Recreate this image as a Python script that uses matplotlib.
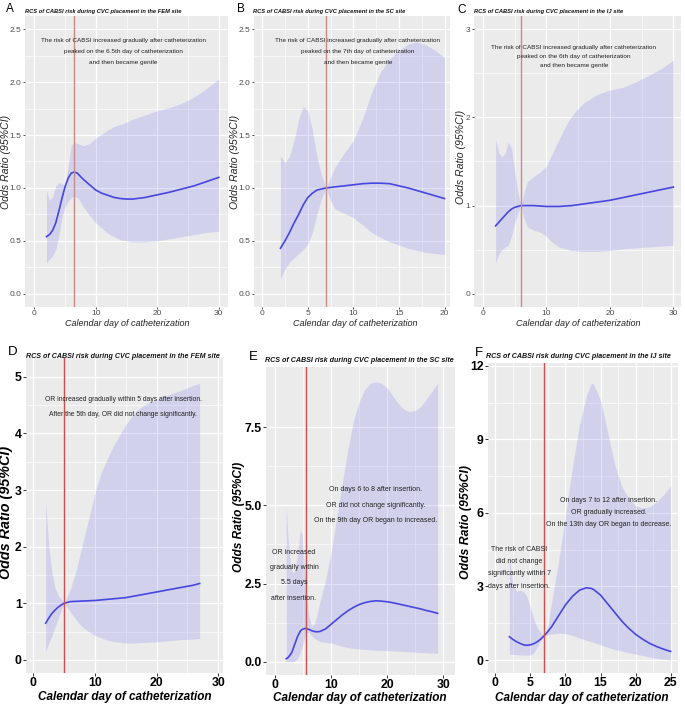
import matplotlib
matplotlib.use("Agg")
import matplotlib.pyplot as plt

plt.rcParams['font.family'] = ['Liberation Sans', 'DejaVu Sans']

W, H = 685, 709

# ---------------- data ----------------
# Panel A (FEM, top)
a_x = [2, 2.5, 3, 3.5, 4, 4.5, 5, 5.5, 6, 6.5, 7, 7.5, 8, 9, 10, 11, 12, 13, 14, 15, 16, 18, 20, 22, 24, 26, 28, 30]
a_or = [0.54, 0.56, 0.60, 0.67, 0.78, 0.90, 1.01, 1.09, 1.14, 1.15, 1.14, 1.11, 1.08, 1.03, 0.98, 0.95, 0.93, 0.91, 0.90, 0.895, 0.895, 0.91, 0.935, 0.96, 0.99, 1.02, 1.06, 1.10]
a_hi = [0.98, 0.88, 0.92, 1.02, 1.05, 1.04, 1.02, 1.20, 1.40, 1.43, 1.42, 1.41, 1.40, 1.42, 1.47, 1.51, 1.55, 1.58, 1.60, 1.62, 1.65, 1.69, 1.73, 1.76, 1.80, 1.86, 1.94, 2.03]
a_lo = [0.29, 0.33, 0.36, 0.42, 0.55, 0.72, 0.82, 0.87, 0.91, 0.92, 0.91, 0.87, 0.82, 0.74, 0.67, 0.62, 0.57, 0.54, 0.51, 0.50, 0.49, 0.49, 0.50, 0.52, 0.54, 0.56, 0.58, 0.59]

# Panel B (SC, top)
b_x = [2, 2.5, 3, 3.5, 4, 4.5, 5, 5.5, 6, 6.5, 7, 7.5, 8, 9, 10, 11, 12, 13, 14, 15, 16, 17, 18, 19, 20]
b_or = [0.43, 0.50, 0.58, 0.67, 0.75, 0.84, 0.91, 0.95, 0.98, 0.99, 1.00, 1.005, 1.01, 1.02, 1.03, 1.04, 1.045, 1.045, 1.04, 1.02, 1.00, 0.975, 0.95, 0.925, 0.90]
b_hi = [1.30, 1.24, 1.30, 1.45, 1.65, 1.77, 1.73, 1.55, 1.30, 1.12, 1.00, 1.10, 1.20, 1.33, 1.45, 1.65, 1.90, 2.10, 2.22, 2.30, 2.36, 2.38, 2.35, 2.30, 2.23]
b_lo = [0.15, 0.23, 0.30, 0.34, 0.38, 0.42, 0.47, 0.58, 0.75, 0.90, 1.00, 0.88, 0.80, 0.76, 0.72, 0.65, 0.58, 0.53, 0.49, 0.46, 0.43, 0.41, 0.39, 0.38, 0.37]

# Panel C (IJ, top)
c_x = [2, 2.5, 3, 3.5, 4, 4.5, 5, 5.5, 6, 6.5, 7, 8, 9, 10, 11, 12, 13, 14, 15, 16, 18, 20, 22, 24, 26, 28, 30]
c_or = [0.77, 0.81, 0.85, 0.89, 0.93, 0.96, 0.98, 0.99, 1.00, 1.00, 1.00, 1.00, 0.995, 0.99, 0.99, 0.99, 0.995, 1.00, 1.01, 1.02, 1.04, 1.06, 1.09, 1.12, 1.15, 1.18, 1.21]
c_hi = [1.75, 1.60, 1.55, 1.60, 1.72, 1.65, 1.40, 1.15, 1.00, 1.15, 1.27, 1.33, 1.38, 1.45, 1.60, 1.75, 1.90, 2.02, 2.10, 2.17, 2.26, 2.31, 2.34, 2.40, 2.47, 2.55, 2.65]
c_lo = [0.35, 0.45, 0.50, 0.53, 0.55, 0.65, 0.80, 0.92, 1.00, 0.85, 0.76, 0.72, 0.70, 0.65, 0.58, 0.53, 0.51, 0.49, 0.485, 0.48, 0.48, 0.49, 0.51, 0.52, 0.53, 0.54, 0.55]

# Panel D (FEM, bottom)
d_x = [2, 2.5, 3, 3.5, 4, 4.5, 5, 6, 7, 8, 9, 10, 11, 12, 13, 14, 15, 16, 17, 18, 20, 22, 24, 26, 27]
d_or = [0.65, 0.74, 0.82, 0.88, 0.93, 0.97, 1.00, 1.03, 1.035, 1.04, 1.045, 1.05, 1.06, 1.07, 1.08, 1.09, 1.10, 1.12, 1.14, 1.16, 1.20, 1.24, 1.28, 1.32, 1.35]
d_hi = [2.80, 2.00, 1.55, 1.28, 1.15, 1.08, 1.00, 1.25, 1.60, 2.05, 2.50, 2.95, 3.30, 3.55, 3.78, 3.97, 4.15, 4.30, 4.42, 4.50, 4.60, 4.68, 4.76, 4.85, 4.88]
d_lo = [0.15, 0.30, 0.42, 0.58, 0.72, 0.88, 1.00, 0.85, 0.70, 0.58, 0.50, 0.43, 0.39, 0.35, 0.33, 0.31, 0.30, 0.30, 0.305, 0.31, 0.32, 0.34, 0.36, 0.37, 0.38]

# Panel E (SC, bottom)
e_x = [2, 2.3, 2.7, 3, 3.5, 4, 4.5, 4.8, 5, 5.5, 6, 6.5, 7, 7.5, 8, 9, 10, 11, 12, 13, 14, 15, 16, 17, 18, 19, 20, 21, 22, 23, 24, 25, 26, 27, 28, 29]
e_or = [0.10, 0.13, 0.22, 0.30, 0.55, 0.80, 0.98, 1.03, 1.05, 1.07, 1.04, 1.00, 0.97, 0.96, 0.97, 1.05, 1.20, 1.35, 1.50, 1.63, 1.74, 1.83, 1.89, 1.93, 1.95, 1.94, 1.92, 1.89, 1.85, 1.81, 1.77, 1.73, 1.69, 1.64, 1.60, 1.55]
e_hi = [5.00, 4.00, 3.20, 2.90, 2.85, 3.40, 4.20, 4.10, 3.60, 2.50, 1.50, 1.15, 1.20, 1.50, 1.90, 2.60, 3.50, 4.60, 5.70, 6.80, 7.70, 8.30, 8.70, 8.90, 8.95, 8.90, 8.75, 8.50, 8.25, 8.07, 8.00, 8.03, 8.15, 8.40, 8.65, 8.90]
e_lo = [0.00, 0.00, 0.00, 0.00, 0.02, 0.10, 0.30, 0.45, 0.60, 0.90, 0.95, 0.85, 0.75, 0.70, 0.65, 0.62, 0.60, 0.55, 0.50, 0.46, 0.43, 0.41, 0.40, 0.38, 0.37, 0.365, 0.36, 0.35, 0.34, 0.33, 0.32, 0.31, 0.30, 0.29, 0.28, 0.27]

# Panel F (IJ, bottom)
f_x = [2, 2.5, 3, 3.5, 4, 4.5, 5, 5.5, 6, 6.5, 7, 7.5, 8, 9, 10, 11, 12, 13, 13.7, 14, 15, 16, 17, 18, 19, 20, 21, 22, 23, 24, 25]
f_or = [0.95, 0.84, 0.75, 0.68, 0.62, 0.60, 0.62, 0.67, 0.75, 0.86, 1.00, 1.17, 1.35, 1.80, 2.25, 2.60, 2.85, 2.95, 2.92, 2.88, 2.65, 2.30, 1.95, 1.60, 1.30, 1.05, 0.85, 0.68, 0.55, 0.44, 0.35]
f_hi = [4.20, 3.10, 2.80, 2.85, 2.80, 2.60, 2.10, 1.65, 1.30, 1.10, 1.00, 1.40, 2.30, 4.00, 5.90, 7.90, 9.60, 10.80, 11.30, 11.25, 10.60, 9.30, 8.00, 7.10, 6.60, 6.30, 6.20, 6.25, 6.45, 6.75, 7.10]
f_lo = [0.25, 0.23, 0.22, 0.21, 0.20, 0.20, 0.20, 0.30, 0.55, 0.80, 1.00, 1.03, 1.05, 1.10, 1.08, 1.00, 0.90, 0.80, 0.75, 0.72, 0.62, 0.52, 0.44, 0.37, 0.30, 0.24, 0.18, 0.12, 0.07, 0.03, 0.00]

cut_days = [6.5, 7, 6, 5, 5.5, 7]
titles = ["RCS of CABSI risk during CVC placement in the FEM site",
          "RCS of CABSI risk during CVC placement in the SC site",
          "RCS of CABSI risk during CVC placement in the IJ site",
          "RCS of CABSI risk during CVC placement in the FEM site",
          "RCS of CABSI risk during CVC placement in the SC site",
          "RCS of CABSI risk during CVC placement in the IJ site"]
letters = ["A", "B", "C", "D", "E", "F"]
xticks = [[0, 10, 20, 30], [0, 5, 10, 15, 20], [0, 10, 20, 30],
          [0, 10, 20, 30], [0, 10, 20, 30], [0, 5, 10, 15, 20, 25]]
yticks = [[0, 0.5, 1.0, 1.5, 2.0, 2.5], [0, 0.5, 1.0, 1.5, 2.0, 2.5], [0, 1, 2, 3],
          [0, 1, 2, 3, 4, 5], [0, 2.5, 5.0, 7.5], [0, 3, 6, 9, 12]]
ylabels_fmt = ["{:.1f}", "{:.1f}", "{:.0f}", "{:.0f}", "{:.1f}", "{:.0f}"]

# annotation lines: (text, x, y)
notes = [
    [("The risk of CABSI increased gradually after catheterization", 14.5, 2.39),
     ("peaked on the 6.5th day of catheterization", 14.5, 2.285),
     ("and then became gentle", 14.5, 2.19)],
    [("The risk of CABSI increased gradually after catheterization", 10.5, 2.395),
     ("peaked on the 7th day of catheterization", 10.5, 2.29),
     ("and then became gentle", 10.5, 2.19)],
    [("The risk of CABSI increased gradually after catheterization", 14.3, 2.79),
     ("peaked on the 6th day of catheterization", 14.3, 2.69),
     ("and then became gentle", 14.3, 2.59)],
    [("OR increased gradually within 5 days after insertion.", 14.6, 4.59),
     ("After the 5th day, OR did not change significantly.", 14.6, 4.33)],
    [("On days 6 to 8 after insertion.", 18.0, 5.52),
     ("OR did not change significantly.", 18.0, 5.0),
     ("On the 9th day OR began to increased.", 18.0, 4.5),
     ("OR increased", 3.4, 3.5),
     ("gradually within", 3.4, 3.02),
     ("5.5 days", 3.4, 2.52),
     ("after insertion.", 3.4, 2.04)],
    [("On days 7 to 12 after insertion.", 16.2, 6.49),
     ("OR gradually increased.", 16.2, 6.0),
     ("On the 13th day OR began to decrease.", 16.2, 5.51),
     ("The risk of CABSI", 3.4, 4.49),
     ("did not change", 3.4, 4.0),
     ("significantly within 7", 3.4, 3.51),
     ("days after insertion.", 3.4, 2.98)],
]

series = [(a_x, a_or, a_lo, a_hi), (b_x, b_or, b_lo, b_hi), (c_x, c_or, c_lo, c_hi),
          (d_x, d_or, d_lo, d_hi), (e_x, e_or, e_lo, e_hi), (f_x, f_or, f_lo, f_hi)]

# ---------------- layout (pixels) ----------------
boxes = [(25, 16, 228, 307), (254, 16, 450, 307), (474, 16, 681, 307),
         (26, 358, 223, 673), (266, 367, 455, 675), (488, 363, 678, 673)]
xlims = [(-1.5, 31.5), (-0.9, 20.6), (-1.4, 31.2), (-1.2, 30.8), (-1.6, 32.1), (-1.05, 26.05)]
ylims = [(-0.125, 2.625), (-0.125, 2.625), (-0.15, 3.15), (-0.23, 5.33), (-0.42, 9.42), (-0.53, 12.12)]
letter_pos = [(10, 9), (241, 9), (462, 10), (13, 352), (253, 357), (479, 353)]
title_pos = [(25, 11), (253, 11), (474, 11), (26, 356), (265, 360), (486, 357)]
ylab_pos = [(6, 162), (235, 162), (461, 157), (6, 512), (239, 517), (466, 522)]
xlab_pos = [(127, 324), (355, 324), (578, 324), (125, 697), (360, 698), (582, 698)]
ylab_size = [7.6, 7.6, 7.6, 10.4, 8.6, 8.8]

fig = plt.figure(figsize=(W / 100, H / 100), dpi=100)
fig.patch.set_facecolor("white")


def fx(px):
    return px / W


def fy(py):
    return 1 - py / H


for i in range(6):
    x0, y0, x1, y1 = boxes[i]
    ax = fig.add_axes([fx(x0), fy(y1), (x1 - x0) / W, (y1 - y0) / H])
    ax.set_facecolor("#EBEBEB")
    for s in ax.spines.values():
        s.set_visible(False)
    top = i < 3
    xs, orv, lo, hi = series[i]
    ax.fill_between(xs, lo, hi, color="#6a6af0", alpha=0.2, linewidth=0, zorder=2)
    ax.plot(xs, orv, color="#4646e0", lw=1.2, zorder=3)
    ax.axvline(cut_days[i], color="#c98a8a" if top else "#c8504c", lw=1.0, zorder=4)
    ax.set_xlim(*xlims[i])
    ax.set_ylim(*ylims[i])
    xt = xticks[i]
    yt = yticks[i]
    ax.set_xticks(xt)
    ax.set_yticks(yt)
    ax.set_xticks([(xt[k] + xt[k + 1]) / 2 for k in range(len(xt) - 1)], minor=True)
    ax.set_yticks([(yt[k] + yt[k + 1]) / 2 for k in range(len(yt) - 1)], minor=True)
    ax.set_yticklabels([ylabels_fmt[i].format(v) for v in yt])
    ax.set_xticklabels([str(v) for v in xt])
    ax.grid(which="major", color="white", lw=0.9, zorder=1)
    ax.grid(which="minor", color="white", lw=0.45, zorder=1)
    ax.set_axisbelow(True)
    if top:
        ax.tick_params(which="major", length=1.5, width=0.6, color="#333333",
                       labelsize=6.0, labelcolor="#4d4d4d", pad=1.0)
    else:
        ax.tick_params(which="major", length=2.0, width=0.7, color="#333333",
                       labelsize=8.8, labelcolor="black", pad=1.0)
        for lab in ax.get_xticklabels() + ax.get_yticklabels():
            lab.set_fontweight("bold")
    ax.tick_params(which="minor", length=0)
    for (t, tx, ty) in notes[i]:
        fs = 4.6 if top else (4.85 if i == 3 else 5.0)
        ax.text(tx, ty, t, ha="center", va="center", fontsize=fs,
                color="#222222", zorder=5)

    # panel letter and title
    lx, ly = letter_pos[i]
    fig.text(fx(lx), fy(ly), letters[i], ha="center", va="center",
             fontsize=8.5 if top else 9.5, color="black")
    tx, ty = title_pos[i]
    fig.text(fx(tx), fy(ty), titles[i], ha="left", va="center",
             fontsize=4.15 if top else 5.1, fontweight="bold", fontstyle="italic",
             color="#111111")
    # axis labels
    yx, yy = ylab_pos[i]
    fig.text(fx(yx), fy(yy), "Odds Ratio (95%CI)", rotation=90, ha="center", va="center",
             fontsize=ylab_size[i], fontstyle="italic",
             fontweight="normal" if top else "bold", color="#222222" if top else "black")
    xx, xy = xlab_pos[i]
    fig.text(fx(xx), fy(xy), "Calendar day of catheterization", ha="center", va="center",
             fontsize=6.5 if top else 8.5, fontstyle="italic",
             fontweight="normal" if top else "bold", color="#222222" if top else "black")

fig.savefig("out.png", dpi=100)
